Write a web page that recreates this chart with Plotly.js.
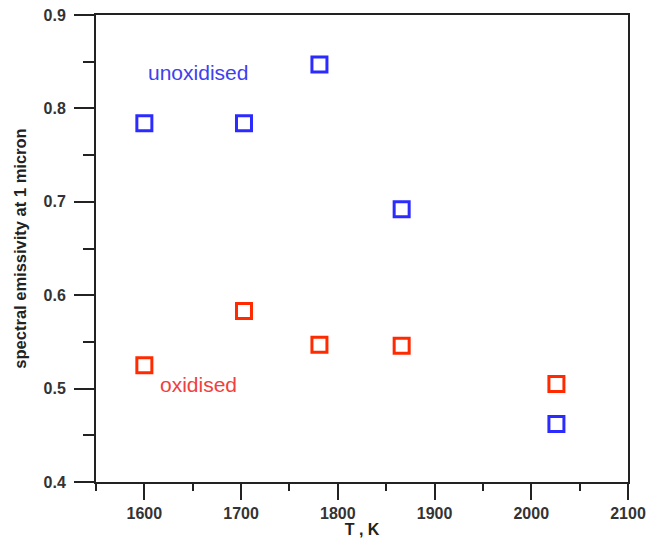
<!DOCTYPE html>
<html>
<head>
<meta charset="utf-8">
<script src="https://cdn.plot.ly/plotly-3.0.1.min.js"></script>
<style>html,body{margin:0;padding:0;background:#fff;}#chart{width:649px;height:538px;}</style>
</head>
<body>
<div id="chart"></div>
<script>
const tempUnox = [1600, 1703, 1781, 1866, 2026];
const emisUnox = [0.784, 0.784, 0.847, 0.692, 0.462];
const tempOx = [1600, 1703, 1781, 1866, 2026];
const emisOx = [0.525, 0.583, 0.547, 0.546, 0.505];
const xTicks = [1600, 1700, 1800, 1900, 2000, 2100];
const yTicks = [0.4, 0.5, 0.6, 0.7, 0.8, 0.9];

const markerBase = {symbol: 'square-open', size: 15};
const traces = [
  {x: tempUnox, y: emisUnox, mode: 'markers', type: 'scatter', name: 'unoxidised',
   marker: Object.assign({}, markerBase, {color: '#2b2bff', line: {color: '#2b2bff', width: 3}})},
  {x: tempOx, y: emisOx, mode: 'markers', type: 'scatter', name: 'oxidised',
   marker: Object.assign({}, markerBase, {color: '#ff2a00', line: {color: '#ff2a00', width: 3}})}
];

const tickFont = {family: 'Liberation Sans, Arial, sans-serif', size: 16, color: '#333', weight: 'bold'};
const layout = {
  width: 649, height: 538,
  margin: {l: 96, r: 21, t: 15, b: 56},
  paper_bgcolor: '#fff', plot_bgcolor: '#fff',
  showlegend: false,
  xaxis: {
    range: [1550, 2100], tickvals: xTicks, ticktext: xTicks.map(String),
    showgrid: false, zeroline: false,
    showline: true, linecolor: '#222', linewidth: 2, mirror: true,
    ticks: 'outside', ticklen: 16, tickwidth: 2, tickcolor: '#222',
    minor: {dtick: 50, tick0: 1550, ticks: 'outside', ticklen: 7, tickwidth: 2, tickcolor: '#222', showgrid: false},
    tickfont: tickFont,
    title: {text: 'T , K', font: {family: 'Liberation Sans, Arial, sans-serif', size: 16, color: '#222', weight: 'bold'}, standoff: 2}
  },
  yaxis: {
    range: [0.4, 0.9], tickvals: yTicks, ticktext: yTicks.map(v => v.toFixed(1)),
    showgrid: false, zeroline: false,
    showline: true, linecolor: '#222', linewidth: 2, mirror: true,
    ticks: 'outside', ticklen: 20, tickwidth: 2, tickcolor: '#222',
    minor: {dtick: 0.05, tick0: 0.4, ticks: 'outside', ticklen: 11, tickwidth: 2, tickcolor: '#222', showgrid: false},
    tickfont: tickFont, ticklabelstandoff: 5,
    title: {text: 'spectral emissivity at 1 micron', font: {family: 'Liberation Sans, Arial, sans-serif', size: 16.5, color: '#222', weight: 'bold'}, standoff: 13}
  },
  annotations: [
    {x: 1655, y: 0.838, xref: 'x', yref: 'y', text: 'unoxidised', showarrow: false,
     font: {family: 'Liberation Sans, Arial, sans-serif', size: 21, color: '#4040ee'}},
    {x: 1656, y: 0.504, xref: 'x', yref: 'y', text: 'oxidised', showarrow: false,
     font: {family: 'Liberation Sans, Arial, sans-serif', size: 21, color: '#f04040'}}
  ]
};

Plotly.newPlot('chart', traces, layout, {displayModeBar: false, staticPlot: true});
</script>
</body>
</html>
